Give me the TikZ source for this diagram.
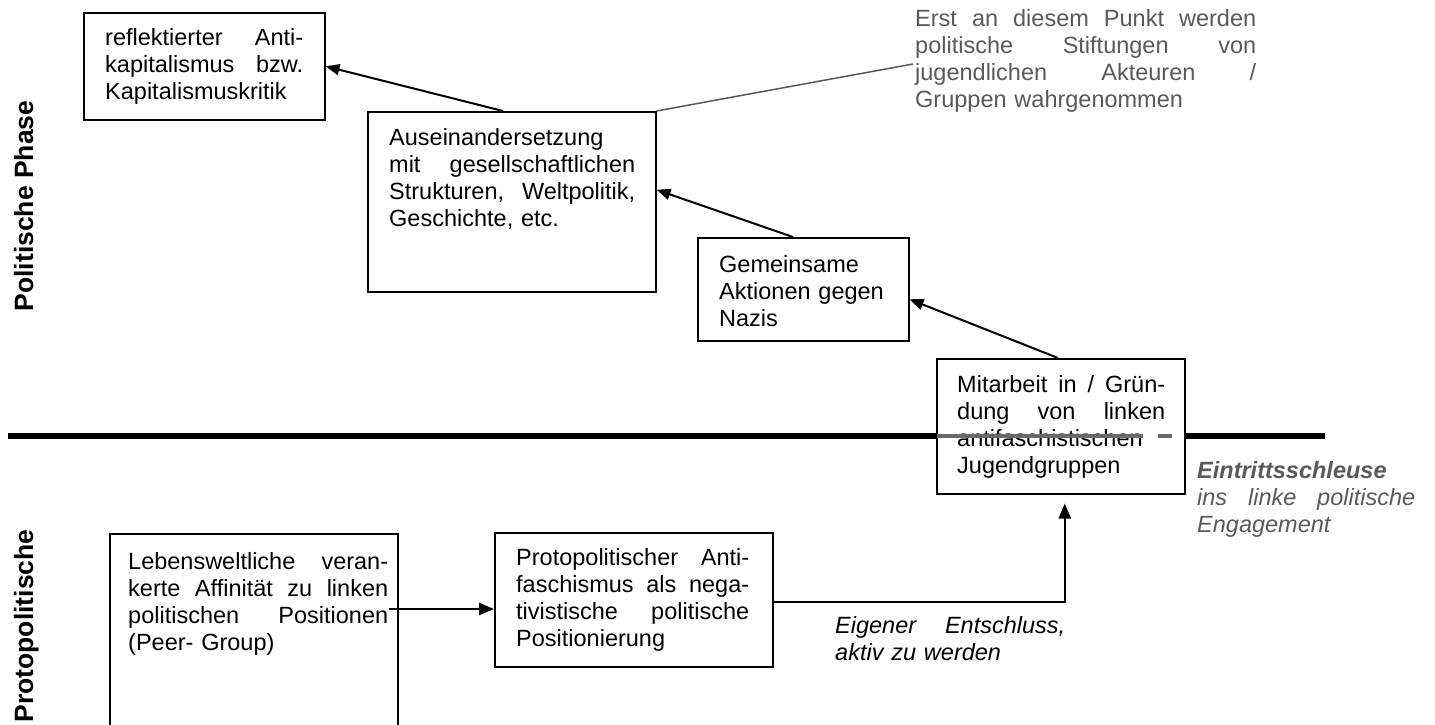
\documentclass[tikz,border=0pt]{standalone}
\usepackage{fontspec}
\setmainfont{Liberation Sans}
\usetikzlibrary{arrows.meta}
\definecolor{gtext}{RGB}{89,89,89}
\definecolor{gdash}{RGB}{105,105,105}
\begin{document}
\begin{tikzpicture}[x=1pt,y=-1pt,
  box/.style={draw=black,line width=1.5pt,fill=white,inner sep=0pt,anchor=north west},
  txt/.style={inner sep=0pt,anchor=north west,align=left,font=\fontsize{23.5}{27}\selectfont},
  side/.style={inner sep=0pt,rotate=90,anchor=base,font=\fontsize{26.5}{30}\selectfont\bfseries},
  arr/.style={draw=black,line width=2pt,-{Triangle[length=14pt,width=11pt]}},
  arrb/.style={draw=black,line width=2.5pt,-{Triangle[length=15pt,width=12pt]}},
  leader/.style={draw=gtext,line width=1.5pt},
  sep/.style={draw=black,line width=6pt},
  dashc/.style={draw=gdash,line width=4.5pt}]
\useasboundingbox (0,0) rectangle (1435,724);
\clip (0,0) rectangle (1435,724);

% separator line between the two phases
\draw[sep] (8,436) -- (1325,436);

% side labels
\node[side] (lpol) at (33,206) {Politische Phase};
\node[side] (lproto) at (33,626) {Protopolitische};

% boxes
\node[box,minimum width=241pt,minimum height=107pt] (reflekt) at (83,12) {};
\node[box,minimum width=288pt,minimum height=180pt] (ausein) at (367,111) {};
\node[box,minimum width=211pt,minimum height=103pt] (gemein) at (697,237) {};
\node[box,minimum width=248pt,minimum height=135pt] (mitarb) at (936,358) {};
\node[box,minimum width=288pt,minimum height=200pt] (leben) at (109,533) {};
\node[box,minimum width=278pt,minimum height=134pt] (proto) at (494,532) {};

% box texts
\node[txt,text width=198pt] (reflekt-t) at (105,26) {\strut reflektierter\hfill Anti-\\kapitalismus\hfill bzw.\\Kapitalismuskritik};
\node[txt,text width=246pt] (ausein-t) at (389,126) {\strut Auseinandersetzung\\mit\hfill gesellschaftlichen\\Strukturen,\hfill Weltpolitik,\\Geschichte, etc.};
\node[txt,text width=175pt] (gemein-t) at (719,253) {\strut Gemeinsame\\Aktionen gegen\\Nazis};
\node[txt,text width=208pt] (mitarb-t) at (957,373) {\strut Mitarbeit\hfill in\hfill /\hfill Grün-\\dung\hfill von\hfill linken\\antifaschistischen\\Jugendgruppen};
\node[txt,text width=260pt] (leben-t) at (128,550) {\strut Lebensweltliche\hfill veran-\\kerte\hfill Affinität\hfill zu\hfill linken\\politischen\hfill Positionen\\(Peer- Group)};
\node[txt,text width=233pt] (proto-t) at (516,546) {\strut Protopolitischer\hfill Anti-\\faschismus\hfill als\hfill nega-\\tivistische\hfill politische\\Positionierung};

% gray dashes across the box at the separator
\draw[dashc] (937,436) -- (1143,436);
\draw[dashc] (1158,436) -- (1172,436);

% free texts
\node[txt,text width=341pt,text=gtext] (erst) at (915,7) {\strut Erst\hfill an\hfill diesem\hfill Punkt\hfill werden\\politische\hfill Stiftungen\hfill von\\jugendlichen\hfill Akteuren\hfill /\\Gruppen wahrgenommen};
\node[txt,text width=218pt,text=gtext,font=\fontsize{23.5}{27}\selectfont\itshape] (eintritt) at (1197,459) {\strut\textbf{Eintrittsschleuse}\\ins\hfill linke\hfill politische\\Engagement};
\node[txt,text width=230pt,font=\fontsize{23.5}{27}\selectfont\itshape] (eigen) at (835,614) {\strut Eigener\hfill Entschluss,\\aktiv zu werden};

% connectors
\coordinate (lead) at (913,64);
\draw[leader] (ausein.north east) -- (lead);
\draw[arr] ([xshift=136pt]ausein.north west) -- (reflekt.east);
\draw[arr] ([xshift=96pt]gemein.north west) -- ([yshift=12pt]ausein.east);
\draw[arr] ([xshift=122pt]mitarb.north west) -- ([yshift=-10pt]gemein.east);
\coordinate (lstart) at (389,609);
\draw[arrb] (lstart) -- (lstart -| proto.west);
\draw[arrb] ([yshift=-2pt]proto.east) -| ([xshift=4pt,yshift=-9pt]mitarb.south);
\end{tikzpicture}
\end{document}
